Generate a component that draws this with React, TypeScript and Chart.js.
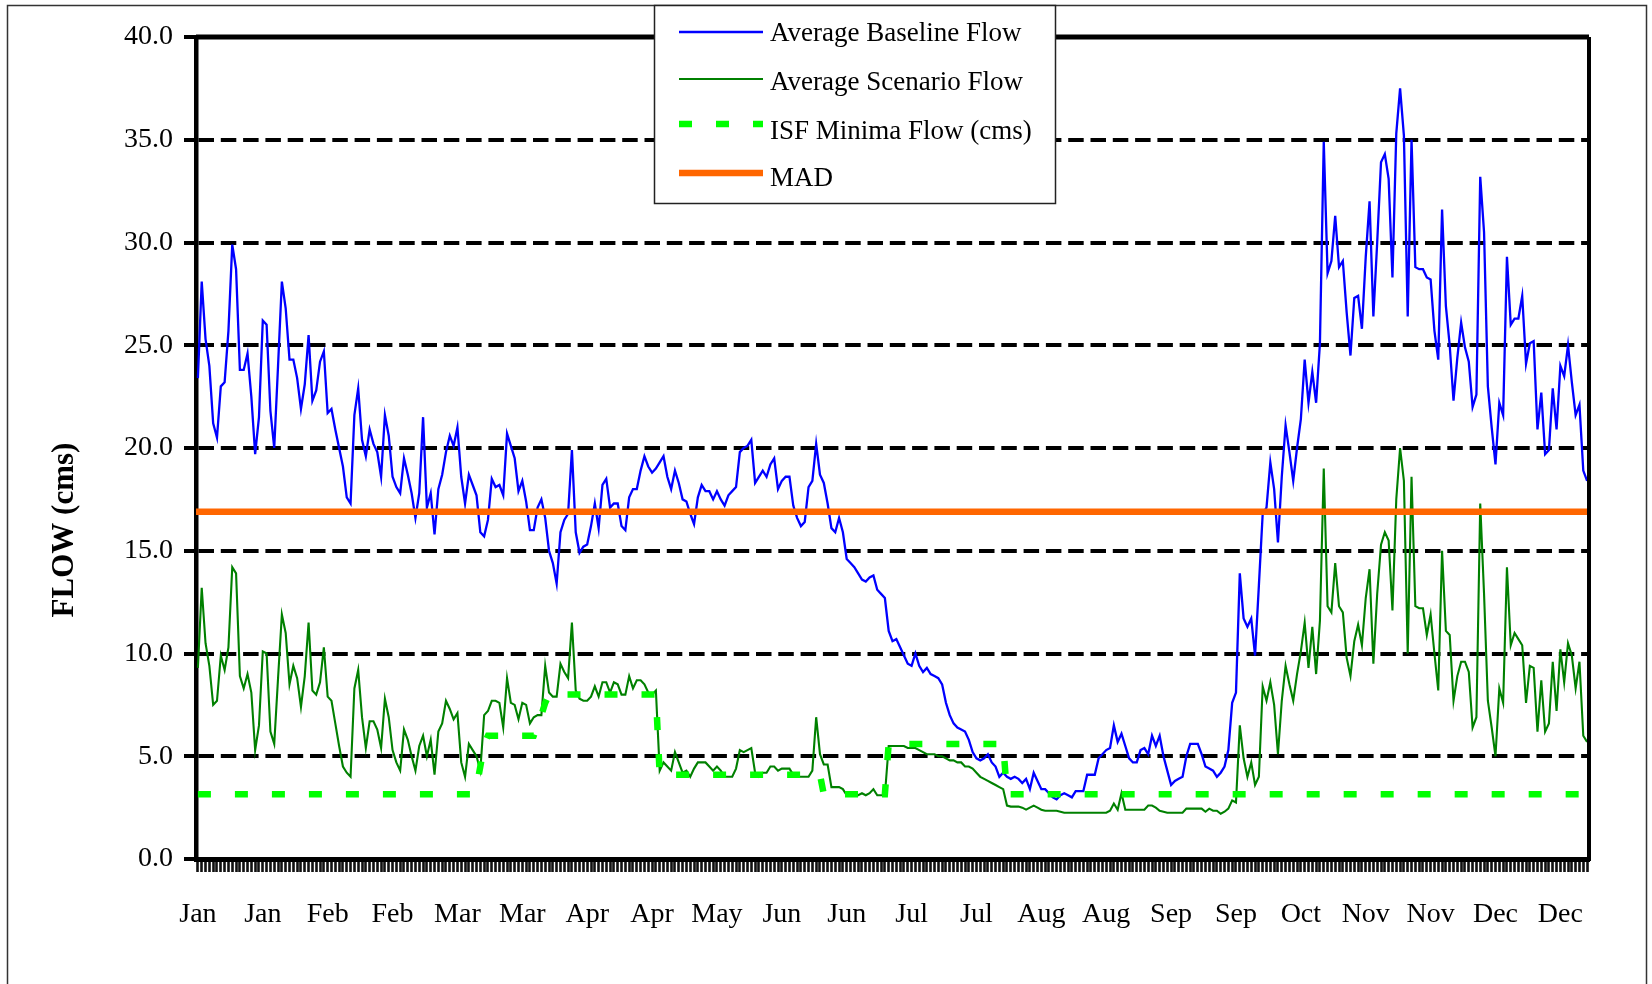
import React, { useEffect, useRef } from 'react';
import { Chart, registerables } from 'chart.js';

Chart.register(...registerables);

const FONT = '"Liberation Serif", "Times New Roman", serif';

// x-axis tick labels, shown every 17th day (day 0 = Jan 1)
const tickLabels = ['Jan', 'Jan', 'Feb', 'Feb', 'Mar', 'Mar', 'Apr', 'Apr', 'May', 'Jun', 'Jun',
  'Jul', 'Jul', 'Aug', 'Aug', 'Sep', 'Sep', 'Oct', 'Nov', 'Nov', 'Dec', 'Dec'];
const labelEvery = 17;

const legendLabels = ['Average Baseline Flow', 'Average Scenario Flow', 'ISF Minima Flow (cms)', 'MAD'];
const yTitle = 'FLOW (cms)';

// daily average baseline flow (cms), 365 days
const baselineFlow = [
  23.4, 28.1, 25.3, 24.0, 21.2, 20.5, 23.0, 23.2, 25.7, 29.9, 28.7, 23.8, 23.8, 24.6, 22.5, 19.7, 21.5,
  26.2, 26.0, 21.8, 20.0, 24.0, 28.1, 26.8, 24.3, 24.3, 23.4, 21.9, 23.1, 25.5, 22.3, 22.8, 24.2, 24.7,
  21.7, 21.9, 20.9, 20.0, 19.1, 17.6, 17.3, 21.6, 22.9, 20.4, 19.6, 20.9, 20.2, 19.8, 18.6, 21.6, 20.6,
  18.6, 18.1, 17.8, 19.5, 18.7, 17.8, 16.6, 17.8, 21.5, 17.1, 17.8, 15.8, 18.0, 18.7, 19.8, 20.6, 20.1,
  21.0, 18.6, 17.3, 18.7, 18.2, 17.7, 15.9, 15.7, 16.5, 18.5, 18.1, 18.2, 17.7, 20.7, 20.1, 19.5, 17.9,
  18.4, 17.4, 16.0, 16.0, 17.1, 17.5, 16.6, 15.0, 14.4, 13.4, 15.9, 16.5, 16.8, 19.9, 15.9, 14.9, 15.2,
  15.3, 16.2, 17.3, 16.1, 18.2, 18.5, 17.1, 17.3, 17.3, 16.2, 16.0, 17.6, 18.0, 18.0, 18.9, 19.6, 19.1,
  18.8, 19.0, 19.3, 19.6, 18.6, 18.0, 18.9, 18.3, 17.5, 17.4, 16.8, 16.3, 17.6, 18.2, 17.9, 17.9, 17.5,
  17.9, 17.5, 17.2, 17.7, 17.9, 18.1, 19.8, 20.0, 20.1, 20.4, 18.3, 18.6, 18.9, 18.6, 19.2, 19.5, 18.0,
  18.4, 18.6, 18.6, 17.2, 16.6, 16.2, 16.4, 18.1, 18.4, 20.2, 18.7, 18.3, 17.3, 16.1, 15.9, 16.6, 15.9,
  14.6, 14.4, 14.2, 13.9, 13.6, 13.5, 13.7, 13.8, 13.1, 12.9, 12.7, 11.1, 10.6, 10.7, 10.3, 9.9, 9.5,
  9.4, 10.0, 9.4, 9.1, 9.3, 9.0, 8.9, 8.8, 8.5, 7.6, 7.0, 6.6, 6.4, 6.3, 6.2, 5.8, 5.2,
  4.9, 4.8, 4.9, 5.1, 4.7, 4.5, 4.0, 4.2, 4.0, 3.9, 4.0, 3.9, 3.7, 3.9, 3.4, 4.2, 3.8,
  3.4, 3.4, 3.2, 3.0, 2.9, 3.1, 3.2, 3.1, 3.0, 3.3, 3.3, 3.3, 4.1, 4.1, 4.1, 4.9, 5.1,
  5.3, 5.4, 6.5, 5.7, 6.1, 5.5, 4.9, 4.7, 4.7, 5.3, 5.4, 5.1, 6.0, 5.5, 6.0, 5.0, 4.3,
  3.6, 3.8, 3.9, 4.0, 5.0, 5.6, 5.6, 5.6, 5.1, 4.5, 4.4, 4.3, 4.0, 4.2, 4.5, 5.3, 7.6,
  8.1, 13.9, 11.7, 11.3, 11.7, 9.9, 13.3, 16.8, 17.1, 19.3, 18.0, 15.4, 18.6, 21.1, 19.8, 18.4, 20.0,
  21.4, 24.3, 22.2, 23.7, 22.2, 25.1, 34.9, 28.5, 29.1, 31.3, 28.8, 29.1, 26.6, 24.5, 27.3, 27.4, 25.8,
  29.3, 32.0, 26.4, 30.0, 33.9, 34.3, 33.1, 28.3, 35.3, 37.5, 35.2, 26.4, 35.0, 28.8, 28.7, 28.7, 28.3,
  28.2, 25.7, 24.3, 31.6, 26.9, 25.0, 22.3, 24.4, 26.1, 24.9, 24.2, 22.0, 22.6, 33.2, 30.5, 23.0, 21.0,
  19.2, 22.2, 21.6, 29.3, 26.0, 26.3, 26.3, 27.4, 24.1, 25.1, 25.2, 20.9, 22.7, 19.7, 19.9, 22.9, 20.9,
  24.0, 23.5, 25.0, 23.2, 21.6, 22.1, 18.9, 18.4,
];

// daily average scenario flow (cms), 365 days
const scenarioFlow = [
  9.3, 13.2, 10.5, 9.4, 7.5, 7.7, 9.9, 9.2, 10.3, 14.2, 13.9, 8.9, 8.3, 9.0, 8.1, 5.3, 6.5,
  10.1, 10.0, 6.2, 5.6, 8.8, 11.9, 11.0, 8.5, 9.4, 8.8, 7.4, 8.9, 11.5, 8.2, 8.0, 8.6, 10.3,
  7.9, 7.7, 6.6, 5.5, 4.5, 4.2, 4.0, 8.3, 9.2, 6.9, 5.4, 6.7, 6.7, 6.3, 5.4, 7.8, 6.9,
  5.3, 4.7, 4.3, 6.3, 5.8, 5.0, 4.3, 5.5, 6.0, 5.0, 5.8, 4.1, 6.2, 6.6, 7.7, 7.3, 6.8,
  7.1, 4.7, 4.0, 5.6, 5.3, 5.0, 4.3, 7.0, 7.2, 7.7, 7.7, 7.6, 6.4, 8.8, 7.6, 7.5, 6.8,
  7.6, 7.5, 6.6, 6.9, 7.0, 7.0, 9.4, 8.1, 7.9, 7.9, 9.5, 9.1, 8.8, 11.5, 8.2, 7.8, 7.7,
  7.7, 7.9, 8.4, 7.9, 8.6, 8.6, 8.1, 8.6, 8.5, 8.0, 8.0, 8.9, 8.3, 8.7, 8.7, 8.5, 8.1,
  8.0, 8.2, 4.3, 4.7, 4.5, 4.3, 5.2, 4.7, 4.2, 4.3, 4.0, 4.4, 4.7, 4.7, 4.7, 4.5, 4.3,
  4.5, 4.3, 4.0, 4.0, 4.0, 4.4, 5.3, 5.2, 5.3, 5.4, 4.2, 4.0, 4.2, 4.2, 4.5, 4.5, 4.3,
  4.4, 4.4, 4.4, 4.1, 4.0, 4.0, 4.0, 4.0, 4.3, 6.9, 5.1, 4.6, 4.6, 3.5, 3.5, 3.5, 3.4,
  3.1, 3.1, 3.1, 3.1, 3.2, 3.1, 3.2, 3.4, 3.1, 3.1, 3.1, 5.5, 5.5, 5.5, 5.5, 5.5, 5.4,
  5.4, 5.4, 5.3, 5.2, 5.1, 5.1, 5.1, 5.0, 5.0, 4.9, 4.8, 4.8, 4.7, 4.7, 4.5, 4.5, 4.4,
  4.2, 4.0, 3.9, 3.8, 3.7, 3.6, 3.5, 3.4, 2.6, 2.55, 2.55, 2.55, 2.5, 2.4, 2.5, 2.6, 2.5,
  2.4, 2.35, 2.35, 2.35, 2.35, 2.3, 2.25, 2.25, 2.25, 2.25, 2.25, 2.25, 2.25, 2.25, 2.25, 2.25, 2.25,
  2.25, 2.35, 2.7, 2.4, 3.2, 2.4, 2.4, 2.4, 2.4, 2.4, 2.4, 2.6, 2.6, 2.5, 2.35, 2.3, 2.25,
  2.25, 2.25, 2.25, 2.25, 2.45, 2.45, 2.45, 2.45, 2.45, 2.3, 2.45, 2.35, 2.35, 2.2, 2.3, 2.45, 2.85,
  2.75, 6.5, 4.9, 4.0, 4.7, 3.6, 4.0, 8.4, 7.7, 8.6, 7.5, 5.1, 7.7, 9.4, 8.5, 7.7, 9.0,
  10.1, 11.5, 9.3, 11.3, 9.0, 11.6, 19.0, 12.3, 12.0, 14.4, 12.3, 12.0, 9.8, 8.9, 10.6, 11.4, 10.4,
  12.7, 14.1, 9.5, 12.9, 15.3, 15.9, 15.5, 12.1, 17.5, 20.0, 18.4, 10.0, 18.6, 12.3, 12.2, 12.2, 10.9,
  11.9, 10.0, 8.2, 15.0, 11.1, 10.9, 7.7, 8.9, 9.6, 9.6, 9.1, 6.4, 6.9, 17.3, 12.9, 7.7, 6.4,
  5.0, 8.3, 7.6, 14.2, 10.4, 11.0, 10.7, 10.4, 7.6, 9.4, 9.3, 6.2, 8.7, 6.2, 6.6, 9.6, 7.2,
  10.2, 8.6, 10.5, 9.9, 8.3, 9.6, 6.0, 5.7,
];

// ISF minima flow: step vertices (day, cms)
const isfDays = [0, 72, 73, 74, 75, 76, 88, 89, 90, 91, 92, 120, 121, 163, 164, 180, 181, 211, 212, 364];
const isfFlow = [3.15, 3.15, 3.5, 4.5, 5.6, 6.0, 6.0, 6.5, 7.0, 7.6, 8.0, 8.0, 4.1, 4.1, 3.15, 3.15, 5.6, 5.6, 3.15, 3.15];

// MAD (mean annual discharge)
const madFlow = 16.9;
const dayMin = -0.5;
const dayMax = 364.5;

const COLORS = { baseline: '#0000FF', scenario: '#008000', isf: '#00FF00', mad: '#FF6600' };

const decorPlugin = {
  id: 'decor',
  afterDraw(chart: any) {
    const ctx: CanvasRenderingContext2D = chart.ctx;
    const a = chart.chartArea;
    ctx.save();

    // plot frame: top and right edges
    ctx.strokeStyle = '#000';
    ctx.lineWidth = 5;
    ctx.beginPath();
    ctx.moveTo(a.left, a.top);
    ctx.lineTo(a.right, a.top);
    ctx.stroke();
    ctx.lineWidth = 4;
    ctx.beginPath();
    ctx.moveTo(a.right, a.top);
    ctx.lineTo(a.right, a.bottom + 2);
    ctx.stroke();

    // outer chart frame
    ctx.strokeStyle = '#333';
    ctx.lineWidth = 1.5;
    ctx.strokeRect(7.5, 5.5, 1639, 1100);

    // y axis title
    ctx.save();
    ctx.translate(65, 530);
    ctx.rotate(-Math.PI / 2);
    ctx.font = `bold 31px ${FONT}`;
    ctx.fillStyle = '#000';
    ctx.textAlign = 'center';
    ctx.textBaseline = 'middle';
    ctx.fillText(yTitle, 0, 0);
    ctx.restore();

    // legend
    const lx = 654, ly = 5, lw = 401, lh = 198;
    ctx.fillStyle = '#fff';
    ctx.fillRect(lx, ly, lw, lh);
    ctx.strokeStyle = '#222';
    ctx.lineWidth = 1.5;
    ctx.strokeRect(lx + 0.5, ly + 0.5, lw, lh);

    const rows = [
      { y: 32, base: 41, color: COLORS.baseline, width: 2.3, dash: [] as number[] },
      { y: 79, base: 90, color: COLORS.scenario, width: 2.1, dash: [] as number[] },
      { y: 124, base: 139, color: COLORS.isf, width: 6.5, dash: [13, 24] },
      { y: 173, base: 186, color: COLORS.mad, width: 6.5, dash: [] as number[] },
    ];
    rows.forEach((r, i) => {
      ctx.save();
      ctx.strokeStyle = r.color;
      ctx.lineWidth = r.width;
      ctx.setLineDash(r.dash);
      ctx.lineCap = 'butt';
      ctx.beginPath();
      ctx.moveTo(679, r.y);
      ctx.lineTo(763, r.y);
      ctx.stroke();
      ctx.restore();
      ctx.font = `27px ${FONT}`;
      ctx.fillStyle = '#000';
      ctx.textAlign = 'left';
      ctx.textBaseline = 'alphabetic';
      ctx.fillText(legendLabels[i], 770, r.base);
    });

    ctx.restore();
  },
};

export default function App() {
  const ref = useRef<HTMLCanvasElement>(null);

  useEffect(() => {
    const canvas = ref.current;
    if (!canvas) return;
    const days = baselineFlow.map((_, i) => i);
    const baselineData = baselineFlow.map((v, i) => ({ x: days[i], y: v }));
    const scenarioData = scenarioFlow.map((v, i) => ({ x: days[i], y: v }));
    const isfData = isfDays.map((d, i) => ({ x: d, y: isfFlow[i] }));
    const madData = [{ x: dayMin, y: madFlow }, { x: dayMax, y: madFlow }];

    const chart = new Chart(canvas, {
      type: 'line',
      data: {
        datasets: [
          { label: legendLabels[3], data: madData, borderColor: COLORS.mad, borderWidth: 6.5, pointRadius: 0, order: 1 },
          { label: legendLabels[2], data: isfData, borderColor: COLORS.isf, borderWidth: 6.5, borderDash: [13, 24], borderCapStyle: 'butt', pointRadius: 0, order: 2 },
          { label: legendLabels[1], data: scenarioData, borderColor: COLORS.scenario, borderWidth: 2.1, pointRadius: 0, order: 3 },
          { label: legendLabels[0], data: baselineData, borderColor: COLORS.baseline, borderWidth: 2.3, pointRadius: 0, order: 4 },
        ],
      } as any,
      options: {
        responsive: false,
        devicePixelRatio: 1,
        animation: false,
        events: [],
        layout: { padding: { left: 0, top: 37, right: 63, bottom: 0 } },
        elements: { line: { tension: 0 }, point: { radius: 0 } },
        plugins: { legend: { display: false }, tooltip: { enabled: false }, title: { display: false } },
        scales: {
          x: {
            type: 'linear',
            min: dayMin,
            max: dayMax,
            afterBuildTicks: (axis: any) => {
              axis.ticks = days.map((d) => ({ value: d }));
            },
            afterFit: (axis: any) => {
              axis.height = 125;
            },
            ticks: {
              autoSkip: false,
              maxRotation: 0,
              minRotation: 0,
              padding: 26,
              color: '#000',
              font: { family: FONT, size: 28 },
              callback: (v: any) => {
                const i = Math.round(Number(v));
                return i % labelEvery === 0 ? (tickLabels[i / labelEvery] ?? '') : '';
              },
            },
            grid: { display: true, drawOnChartArea: false, drawTicks: true, tickLength: 13, tickWidth: 2.6, tickColor: '#111', color: '#000' },
            border: { display: true, color: '#000', width: 5 },
          },
          y: {
            min: 0,
            max: 40,
            afterFit: (axis: any) => {
              axis.width = 196;
            },
            ticks: {
              stepSize: 5,
              padding: 11,
              color: '#000',
              font: { family: FONT, size: 28 },
              callback: (v: any) => Number(v).toFixed(1),
            },
            grid: { color: '#000', lineWidth: 4, drawTicks: true, tickLength: 12, tickWidth: 4, tickColor: '#000' },
            border: { display: true, color: '#000', width: 4.5, dash: [15.5, 6.8] },
          },
        },
      } as any,
      plugins: [decorPlugin],
    });
    return () => chart.destroy();
  }, []);

  return (
    <div style={{ position: 'absolute', left: 0, top: 0, width: 1652, height: 984, background: '#fff', overflow: 'hidden' }}>
      <canvas ref={ref} width={1652} height={984} style={{ display: 'block', width: 1652, height: 984 }} />
    </div>
  );
}
